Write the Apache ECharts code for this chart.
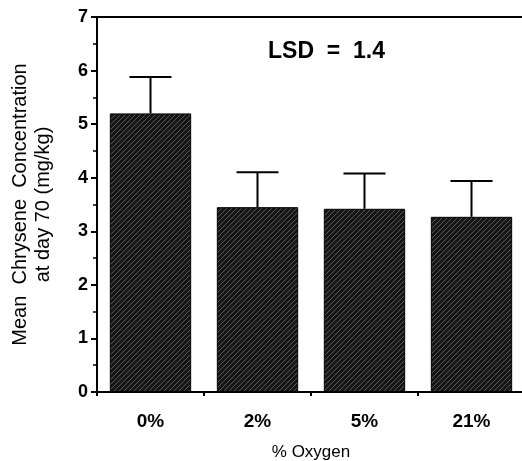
<!DOCTYPE html>
<html>
<head>
<meta charset="utf-8">
<script src="https://cdn.jsdelivr.net/npm/echarts@6/dist/echarts.min.js"></script>
<style>
  html, body { margin: 0; padding: 0; background: #fff; }
  #chart { width: 522px; height: 461px; }
</style>
</head>
<body>
<div id="chart"></div>
<script>
const categories = ['0%', '2%', '5%', '21%']
const means = [5.2, 3.45, 3.42, 3.27]
const upperErrors = [5.88, 4.1, 4.08, 3.94]
const yTicks = [0, 1, 2, 3, 4, 5, 6, 7]

// dark hatch fill for the bars
function makeHatch() {
  const c = document.createElement('canvas')
  c.width = 5
  c.height = 5
  const ctx = c.getContext('2d')
  ctx.fillStyle = '#161616'
  ctx.fillRect(0, 0, 5, 5)
  ctx.strokeStyle = '#6a6a6a'
  ctx.lineWidth = 0.8
  ctx.beginPath()
  ctx.moveTo(0, 5)
  ctx.lineTo(5, 0)
  ctx.stroke()
  return c
}

const font = 'Liberation Sans'
const chart = echarts.init(document.getElementById('chart'))

chart.setOption({
  animation: false,
  grid: { left: 97, right: -3, top: 17, bottom: 69, outerBoundsMode: 'none' },
  xAxis: [
    {
      type: 'category',
      data: categories,
      axisLine: { lineStyle: { color: '#000', width: 2 } },
      axisTick: { show: true, length: 4, lineStyle: { color: '#000', width: 2 } },
      axisLabel: { color: '#000', fontFamily: font, fontSize: 19, fontWeight: 'bold', margin: 20 },
      name: '% Oxygen',
      nameLocation: 'middle',
      nameGap: 52,
      nameTextStyle: { color: '#000', fontFamily: font, fontSize: 17 }
    },
    {
      type: 'category',
      data: categories,
      position: 'top',
      axisLine: { lineStyle: { color: '#000', width: 2 } },
      axisTick: { show: false },
      axisLabel: { show: false }
    }
  ],
  yAxis: {
    type: 'value',
    min: 0,
    max: 7,
    interval: 1,
    axisLine: { show: true, lineStyle: { color: '#000', width: 2 } },
    axisTick: { show: true, length: 6, lineStyle: { color: '#000', width: 2 } },
    minorTick: { show: true, splitNumber: 2, length: 4, lineStyle: { color: '#000', width: 1.5 } },
    splitLine: { show: false },
    axisLabel: {
      color: '#000', fontFamily: font, fontSize: 18, fontWeight: 'bold', margin: 9,
      formatter: v => yTicks.includes(v) ? String(v) : ''
    },
    name: 'Mean  Chrysene  Concentration\nat day 70 (mg/kg)',
    nameLocation: 'middle',
    nameGap: 42,
    nameTextStyle: { color: '#000', fontFamily: font, fontSize: 20, lineHeight: 23 }
  },
  graphic: [
    {
      type: 'text',
      left: 268,
      top: 40,
      style: { text: 'LSD  =  1.4', fill: '#000', font: 'bold 23px ' + font }
    }
  ],
  series: [
    {
      type: 'bar',
      data: means,
      barWidth: '76%',
      itemStyle: {
        color: { image: makeHatch(), repeat: 'repeat' },
        borderColor: '#000',
        borderWidth: 1
      }
    },
    {
      type: 'custom',
      data: categories.map((c, i) => [i, means[i], upperErrors[i]]),
      z: 5,
      renderItem: (params, api) => {
        const base = api.coord([api.value(0), api.value(1)])
        const top = api.coord([api.value(0), api.value(2)])
        const half = 21
        return {
          type: 'group',
          children: [
            {
              type: 'line',
              shape: { x1: base[0], y1: base[1], x2: top[0], y2: top[1] },
              style: { stroke: '#000', lineWidth: 2 }
            },
            {
              type: 'line',
              shape: { x1: top[0] - half, y1: top[1], x2: top[0] + half, y2: top[1] },
              style: { stroke: '#000', lineWidth: 2 }
            }
          ]
        }
      }
    }
  ]
})
</script>
</body>
</html>
